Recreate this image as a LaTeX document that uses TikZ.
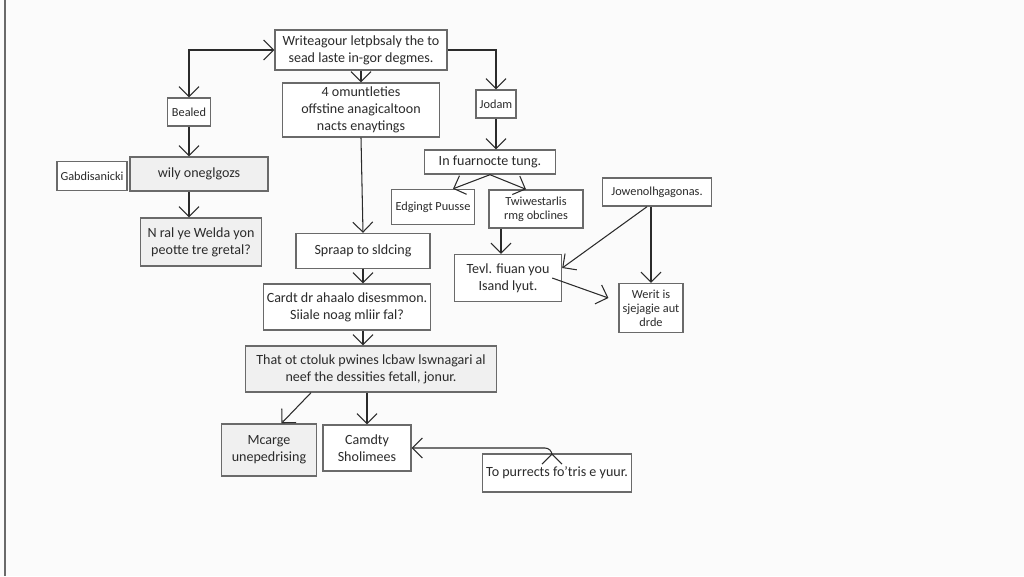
\documentclass[tikz,border=0pt]{standalone}
\usepackage{fontspec}
\setmainfont{Carlito}
\usetikzlibrary{arrows.meta, positioning, calc}
\definecolor{ink}{HTML}{2b2b2b}
\definecolor{pencil}{HTML}{6a6a6a}
\definecolor{paper}{HTML}{fbfbfb}
\tikzset{
  sketchBox/.style = {rectangle, draw=pencil, thick, fill=white, text=ink,
    align=center, font=\footnotesize, inner sep=2pt},
  shadeBox/.style = {sketchBox, fill=black!6},
  link/.style = {-{Straight Barb[length=2mm]}, semithick, draw=ink},
  twoWay/.style = {{Straight Barb[length=2mm]}-{Straight Barb[length=2mm]}, semithick, draw=ink},
}

\begin{document}
\begin{tikzpicture}[x=0.02cm, y=-0.02cm]
\useasboundingbox[fill=paper] (0,0) rectangle (1024,576);
\draw[pencil, thick] (5,0) -- (5,576);

% upper row
\node[sketchBox, minimum width=3.44cm, minimum height=0.8cm] (top) at (361,50) {Writeagour letpbsaly the to\\sead laste in-gor degmes.};
\node[sketchBox, minimum width=3.14cm, minimum height=1.08cm] (offs) at (361,110) {4 omuntleties\\offstine anagicaltoon\\nacts enaytings};
\node[sketchBox, minimum width=0.86cm, minimum height=0.56cm, font=\scriptsize] (bealed) at (189,112) {Bealed};
\node[sketchBox, minimum width=0.78cm, minimum height=0.56cm, font=\scriptsize] (jodam) at (496,104) {Jodam};

% left column
\node[sketchBox, minimum width=1.38cm, minimum height=0.58cm, font=\scriptsize] (gabdis) at (92,176) {Gabdisanicki};
\node[shadeBox, minimum width=2.76cm, minimum height=0.68cm] (wily) at (199,174) {wily oneglgozs};
\node[shadeBox, minimum width=2.42cm, minimum height=0.96cm] (nral) at (201,242) {N ral ye Welda yon\\peotte tre gretal?};

% right branch
\node[sketchBox, minimum width=2.62cm, minimum height=0.48cm] (fuarn) at (490,162) {In fuarnocte tung.};
\node[sketchBox, minimum width=1.66cm, minimum height=0.7cm, font=\scriptsize] (edging) at (433,207) {Edgingt Puusse};
\node[sketchBox, minimum width=1.88cm, minimum height=0.76cm, font=\scriptsize] (twiw) at (536,209) {Twiwestarlis\\rmg obclines};
\node[sketchBox, minimum width=2.18cm, minimum height=0.56cm, font=\scriptsize] (jowen) at (657,192) {Jowenolhgagonas.};
\node[sketchBox, minimum width=2.14cm, minimum height=0.94cm] (tevl) at (508,278) {Tevl. fiuan you\\Isand lyut.};
\node[sketchBox, minimum width=1.22cm, minimum height=0.98cm, font=\scriptsize] (werit) at (651,308) {Werit is\\sjejagie aut\\drde};

% middle column
\node[sketchBox, minimum width=2.68cm, minimum height=0.7cm] (spraap) at (363,251) {Spraap to sldcing};
\node[sketchBox, minimum width=3.3cm, minimum height=0.92cm] (cardt) at (347,307) {Cardt dr ahaalo disesmmon.\\Siiale noag mliir fal?};
\node[shadeBox, minimum width=5.02cm, minimum height=0.92cm] (that) at (371,369) {That ot ctoluk pwines lcbaw lswnagari al\\neef the dessities fetall, jonur.};
\node[shadeBox, minimum width=1.9cm, minimum height=1.04cm] (mcarge) at (269,450) {Mcarge\\unepedrising};
\node[sketchBox, minimum width=1.76cm, minimum height=0.92cm] (camdty) at (367,448) {Camdty\\Sholimees};
\node[sketchBox, minimum width=2.7cm, minimum height=0.76cm] (topurr) at (557,473) {To purrects fo'tris e yuur.};

% connectors
\draw[twoWay] (bealed.north) |- (top.west);
\draw[link] (top.east) -| (jodam.north);
\draw[link] (top.south) -- (offs.north);
\draw[link] (bealed.south) -- (bealed.south |- wily.north);
\draw[link] (bealed.south |- wily.south) -- (bealed.south |- nral.north);
\draw[link] (offs.south) -- (spraap.north);
\draw[link] (jodam.south) -- (jodam.south |- fuarn.north);
\draw[link] (fuarn.south) -- ([xshift=0.4cm]edging.north);
\draw[link] (fuarn.south) -- ([xshift=-0.2cm]twiw.north);
\draw[link] ([xshift=-0.7cm]twiw.south) -- ([xshift=-0.7cm]twiw.south |- tevl.north);
\draw[link] ([xshift=-0.2cm]jowen.south) -- ([yshift=0.2cm]tevl.east);
\draw[link] (jowen.south -| werit.north) -- (werit.north);
\draw[link] ([xshift=-0.2cm]tevl.east) -- ([xshift=-0.2cm,yshift=0.2cm]werit.west);
\draw[link] (spraap.south) -- (spraap.south |- cardt.north);
\draw[link] (spraap.south |- cardt.south) -- (spraap.south |- that.north);
\draw[link] ([xshift=-1.2cm]that.south) -- ([xshift=0.25cm]mcarge.north);
\draw[link] (camdty.north |- that.south) -- (camdty.north);
\draw[twoWay, rounded corners=4pt] (camdty.east) -| ([xshift=-0.1cm]topurr.north);
\end{tikzpicture}
\end{document}
